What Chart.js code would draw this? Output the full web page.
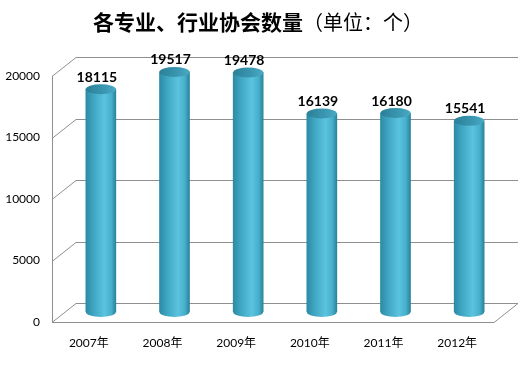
<!DOCTYPE html>
<html>
<head>
<meta charset="utf-8">
<script src="https://cdn.jsdelivr.net/npm/chart.js@4.4.0/dist/chart.umd.min.js"></script>
<style>
  html, body { margin: 0; padding: 0; background: #fff; }
  canvas { display: block; }
</style>
</head>
<body>
<canvas id="bar-chart" width="526" height="366"></canvas>
<script>
const years = ["2007年", "2008年", "2009年", "2010年", "2011年", "2012年"];
const associationCounts = [18115, 19517, 19478, 16139, 16180, 15541];
const yTicks = [0, 5000, 10000, 15000, 20000];
const titleMain = "各专业、行业协会数量";
const titleUnit = "（单位：个）";

const FONT = "Lato, 'Noto Sans CJK SC', sans-serif";
// back wall sits up and to the right of the front plane
const DEPTH_X = 24, DEPTH_Y = -19;
// cylinders stand halfway back
const BAR_X = 12, BAR_Y = -10;
const BAR_W = 30;

const bodyGradient = (ctx, cx, r) => {
  const g = ctx.createLinearGradient(cx - r, 0, cx + r, 0);
  g.addColorStop(0, "#2d8aa5");
  g.addColorStop(0.25, "#3ea6c2");
  g.addColorStop(0.62, "#5cc3de");
  g.addColorStop(0.85, "#46afcb");
  g.addColorStop(1, "#2a839c");
  return g;
};

const capGradient = (ctx, cx, r) => {
  const g = ctx.createLinearGradient(cx - r, 0, cx + r, 0);
  g.addColorStop(0, "#2b7f97");
  g.addColorStop(0.6, "#3a97b1");
  g.addColorStop(1, "#4aa9c3");
  return g;
};

const cylinderPlugin = {
  id: "cylinders",
  beforeDatasetsDraw(chart) {
    const { ctx, chartArea: a, scales: { y } } = chart;
    ctx.save();
    ctx.strokeStyle = "#8f8f8f";
    ctx.lineWidth = 1;
    ctx.beginPath();
    yTicks.forEach((v) => {
      const py = Math.round(y.getPixelForValue(v)) + 0.5;
      ctx.moveTo(a.left, py);
      ctx.lineTo(a.left + DEPTH_X, py + DEPTH_Y);
      ctx.lineTo(a.right + DEPTH_X, py + DEPTH_Y);
    });
    // floor front edge and right edge
    const b = Math.round(a.bottom) + 0.5;
    ctx.moveTo(a.left, b);
    ctx.lineTo(a.right, b);
    ctx.lineTo(a.right + DEPTH_X, b + DEPTH_Y);
    // front left edge
    const l = Math.round(a.left) + 0.5;
    ctx.moveTo(l, y.getPixelForValue(20000));
    ctx.lineTo(l, b);
    ctx.stroke();
    ctx.restore();

    ctx.save();
    ctx.translate(BAR_X, BAR_Y);
  },
  afterDatasetsDraw(chart) {
    const { ctx } = chart;
    const meta = chart.getDatasetMeta(0);
    meta.data.forEach((bar, i) => {
      const r = bar.width / 2;
      // rounded bottom
      ctx.beginPath();
      ctx.ellipse(bar.x, bar.base, r, 5, 0, 0, Math.PI);
      ctx.fillStyle = bodyGradient(ctx, bar.x, r);
      ctx.fill();
      // top cap
      ctx.beginPath();
      ctx.ellipse(bar.x, bar.y, r, 5, 0, 0, Math.PI * 2);
      ctx.fillStyle = capGradient(ctx, bar.x, r);
      ctx.fill();
      // value label
      ctx.fillStyle = "#000";
      ctx.font = "bold 14px " + FONT;
      ctx.textAlign = "center";
      ctx.textBaseline = "bottom";
      ctx.fillText(String(associationCounts[i]), bar.x - 4, bar.y - 5);
    });
    ctx.restore();
  },
};

const titlePlugin = {
  id: "splitTitle",
  afterDraw(chart) {
    const ctx = chart.ctx;
    ctx.save();
    ctx.fillStyle = "#000";
    ctx.textBaseline = "middle";
    ctx.textAlign = "left";
    ctx.font = "bold 21px 'Noto Sans CJK SC'";
    const w1 = ctx.measureText(titleMain).width;
    ctx.font = "20px 'Noto Sans CJK SC'";
    const w2 = ctx.measureText(titleUnit).width;
    const x = 258 - (w1 + w2) / 2;
    ctx.font = "bold 21px 'Noto Sans CJK SC'";
    ctx.fillText(titleMain, x, 22);
    ctx.font = "20px 'Noto Sans CJK SC'";
    ctx.fillText(titleUnit, x + w1, 22);
    ctx.restore();
  },
};

new Chart(document.getElementById("bar-chart"), {
  type: "bar",
  data: {
    labels: years,
    datasets: [
      {
        data: associationCounts,
        barThickness: BAR_W,
        borderWidth: 0,
        backgroundColor: (c) => {
          const xs = c.chart.scales.x;
          if (!xs || c.dataIndex === undefined) return "#45b0cc";
          const cx = xs.getPixelForValue(c.dataIndex);
          if (!Number.isFinite(cx)) return "#45b0cc";
          return bodyGradient(c.chart.ctx, cx, BAR_W / 2);
        },
      },
    ],
  },
  options: {
    responsive: false,
    animation: false,
    layout: { padding: { top: 76, right: 32, bottom: 0, left: 0 } },
    plugins: {
      legend: { display: false },
      tooltip: { enabled: false },
    },
    scales: {
      x: {
        grid: { display: false, drawTicks: false },
        border: { display: false },
        ticks: { padding: 14, color: "#000", font: { family: FONT, size: 12 } },
        afterFit(s) { s.height = 44; },
      },
      y: {
        min: 0,
        max: 20000,
        grid: { display: false, drawTicks: false },
        border: { display: false },
        ticks: {
          stepSize: 5000,
          padding: 12,
          color: "#000",
          font: { family: FONT, size: 12 },
          callback: (v) => String(v),
        },
        afterFit(s) { s.width = 52; },
      },
    },
  },
  plugins: [cylinderPlugin, titlePlugin],
});
</script>
</body>
</html>
